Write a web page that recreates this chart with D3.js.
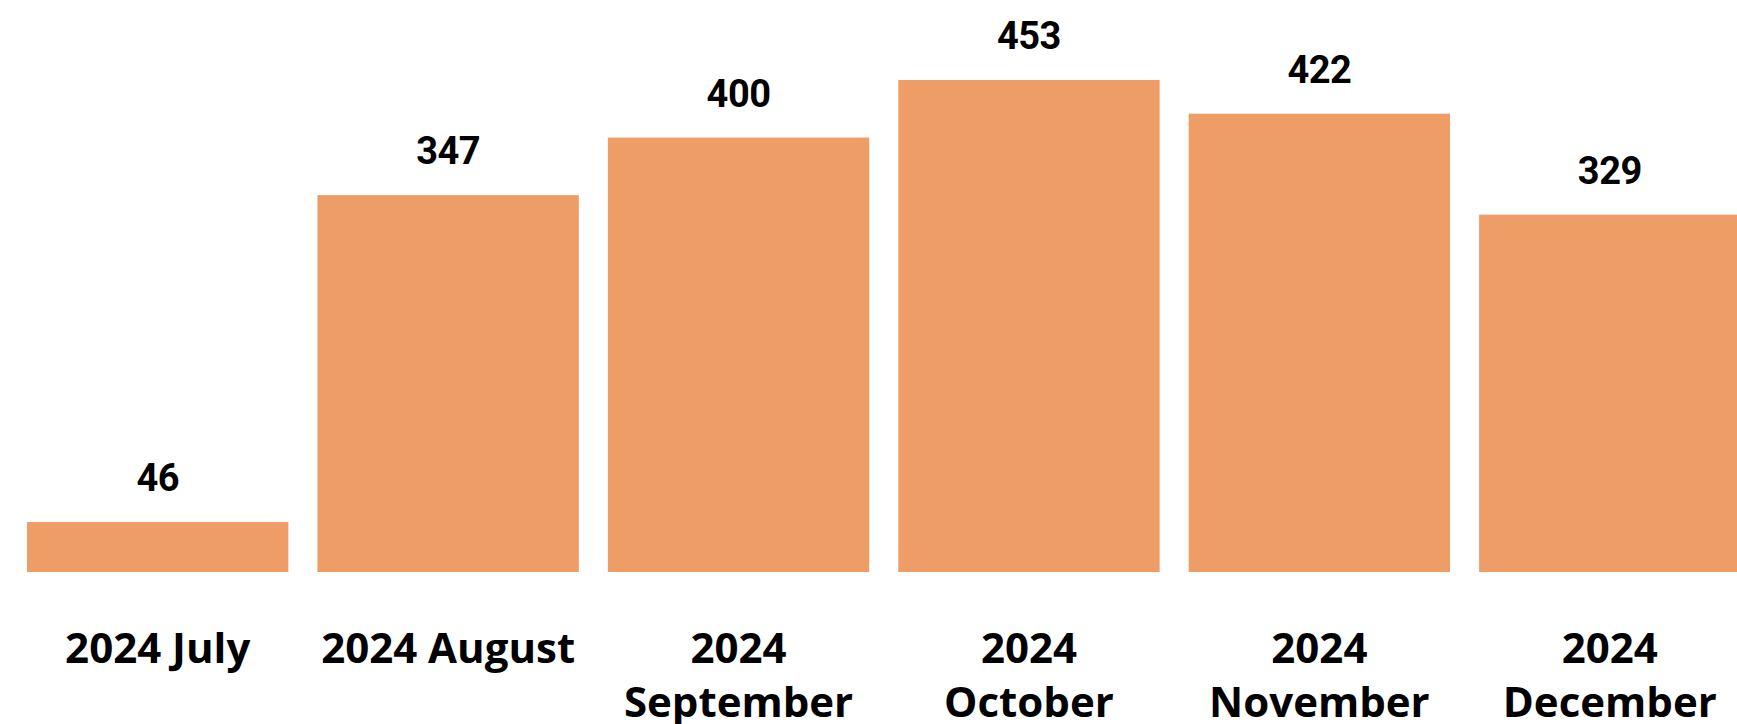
<!DOCTYPE html>
<html>
<head>
<meta charset="utf-8">
<script src="https://cdn.jsdelivr.net/npm/d3@7"></script>
<style>
body{margin:0;background:#fff;overflow:hidden;}
</style>
</head>
<body>
<svg id="chart" width="1737" height="724"></svg>
<script>
var months = ["2024 July","2024 August","2024 September","2024 October","2024 November","2024 December"];
var counts = [46,347,400,453,422,329];

var theData = months.map(function(m,i){return {month:m,count:counts[i]};});

var svg = d3.select("#chart");

var xScale = d3.scaleBand()
	.domain(months)
	.range([12.5,1755])
	.paddingInner(0.1)
	.paddingOuter(0.05);

var yScale = d3.scaleLinear()
	.domain([0,d3.max(counts)])
	.range([572,80]);

svg.selectAll(".bar")
	.data(theData)
	.enter()
	.append("rect")
	.attr("class","bar")
	.attr("x",function(d){return xScale(d.month);})
	.attr("y",function(d){return yScale(d.count);})
	.attr("width",xScale.bandwidth())
	.attr("height",function(d){return yScale(0)-yScale(d.count);})
	.attr("fill","#EE9D66");

svg.selectAll(".val")
	.data(theData)
	.enter()
	.append("text")
	.attr("class","val")
	.attr("x",function(d){return xScale(d.month)+xScale.bandwidth()/2;})
	.attr("y",function(d){return yScale(d.count)-31;})
	.attr("text-anchor","middle")
	.style("font-family","Roboto")
	.style("font-weight","700")
	.style("font-size","38px")
	.style("letter-spacing","-0.5px")
	.attr("fill","#000")
	.text(function(d){return d.count;});

// x axis without line/ticks, labels only
var xAxis = d3.axisBottom(xScale).tickSize(0).tickPadding(0);

var gx = svg.append("g")
	.attr("transform","translate(0,632)")
	.call(xAxis);
gx.select(".domain").remove();
gx.selectAll("text")
	.attr("y",0)
	.attr("dy","0")
	.style("font-family","'Open Sans'")
	.style("font-weight","700")
	.style("font-size","42px")
	.attr("fill","#000")
	.call(wrap,xScale.bandwidth());

function wrap(texts,width){
	texts.each(function(){
		var text = d3.select(this);
		var words = text.text().split(" ");
		text.text(null);
		var line = [];
		var lineNo = 0;
		var tspan = text.append("tspan").attr("x",0).attr("y",30.7);
		for(var i=0;i<words.length;i++){
			line.push(words[i]);
			tspan.text(line.join(" "));
			if(tspan.node().getComputedTextLength()>width && line.length>1){
				line.pop();
				tspan.text(line.join(" "));
				line = [words[i]];
				lineNo++;
				tspan = text.append("tspan").attr("x",0).attr("y",30.7+lineNo*54).text(words[i]);
			}
		}
	});
}
</script>
</body>
</html>
